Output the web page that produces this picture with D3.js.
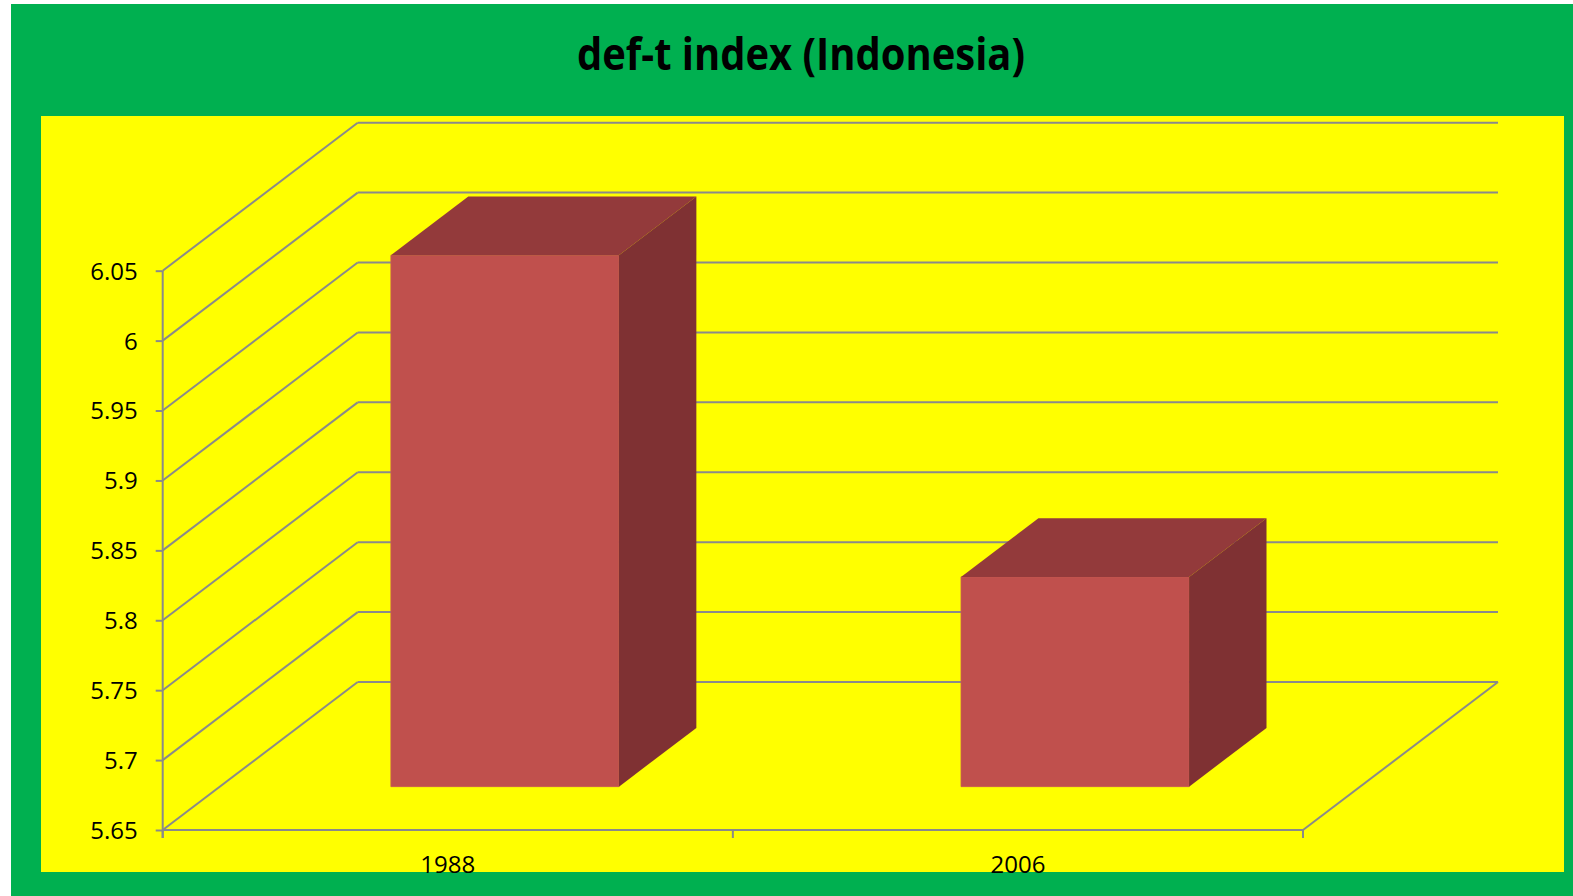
<!DOCTYPE html>
<html>
<head>
<meta charset="utf-8">
<script src="https://cdn.jsdelivr.net/npm/d3@7"></script>
<style>
  html, body { margin: 0; padding: 0; background: #ffffff; }
  svg { display: block; }
</style>
</head>
<body>
<svg id="chart" width="1573" height="896"></svg>
<script>
// --- data ---
const categories = ["1988", "2006"];
const values = [6.03, 5.80];
const yTicks = [5.65, 5.7, 5.75, 5.8, 5.85, 5.9, 5.95, 6.0, 6.05];
const titleText = "def-t index (Indonesia)";

// --- layout ---
const W = 1573, H = 896;
const frontLeft = 162.7, frontRight = 1303, floorY = 830, topY = 270.7;
const depth = { dx: 195, dy: -148 };      // oblique offset from front plane to back wall
const barFront = 0.293, barBack = 0.69;    // bar depth position as fraction of full depth
const gridColor = "#8a8a8a";
const gridWidth = 2;

const svg = d3.select("#chart");

// backgrounds
svg.append("rect").attr("x", 11).attr("y", 4).attr("width", W - 11).attr("height", H - 4).attr("fill", "#00b050");
svg.append("rect").attr("x", 41).attr("y", 116).attr("width", 1564 - 41).attr("height", 872 - 116).attr("fill", "#ffff00");

// title
svg.append("text")
  .attr("x", 801).attr("y", 70)
  .attr("text-anchor", "middle")
  .attr("font-family", "'Open Sans', sans-serif")
  .attr("font-weight", 700)
  .attr("font-size", 44)
  .attr("textLength", 448)
  .attr("lengthAdjust", "spacingAndGlyphs")
  .attr("fill", "#000")
  .text(titleText);

// scales
const y = d3.scaleLinear().domain([5.65, 6.05]).range([floorY, topY]);
const x = d3.scaleBand().domain(categories).range([frontLeft, frontRight]).padding(0);

// project a point on the front plane back by a fraction of the depth
const P = (px, py, f) => [px + depth.dx * f, py + depth.dy * f];

const g = svg.append("g");

// back wall gridlines
g.selectAll("line.back").data(yTicks).join("line")
  .attr("class", "back")
  .attr("x1", frontLeft + depth.dx).attr("x2", frontRight + depth.dx)
  .attr("y1", d => y(d) + depth.dy).attr("y2", d => y(d) + depth.dy)
  .attr("stroke", gridColor).attr("stroke-width", gridWidth);

// side wall gridlines
g.selectAll("line.side").data(yTicks).join("line")
  .attr("class", "side")
  .attr("x1", frontLeft).attr("y1", d => y(d))
  .attr("x2", frontLeft + depth.dx).attr("y2", d => y(d) + depth.dy)
  .attr("stroke", gridColor).attr("stroke-width", gridWidth);

// floor: front edge and right edge
g.append("line")
  .attr("x1", frontLeft).attr("x2", frontRight).attr("y1", floorY).attr("y2", floorY)
  .attr("stroke", gridColor).attr("stroke-width", gridWidth);
g.append("line")
  .attr("x1", frontRight).attr("y1", floorY)
  .attr("x2", frontRight + depth.dx).attr("y2", floorY + depth.dy)
  .attr("stroke", gridColor).attr("stroke-width", gridWidth);

// category boundary ticks
const bounds = categories.map(c => x(c)).concat([frontRight]);
g.selectAll("line.xt").data(bounds).join("line")
  .attr("class", "xt")
  .attr("x1", d => d).attr("x2", d => d)
  .attr("y1", floorY).attr("y2", floorY + 8)
  .attr("stroke", gridColor).attr("stroke-width", gridWidth);

// value axis
const yAxis = d3.axisLeft(y)
  .tickValues(yTicks)
  .tickSize(7).tickSizeOuter(0).tickPadding(18)
  .tickFormat(d => String(+d.toFixed(2)));
const ya = svg.append("g").attr("transform", `translate(${frontLeft},0)`).call(yAxis);
ya.select(".domain").remove();
ya.selectAll(".tick line").attr("stroke", gridColor).attr("stroke-width", gridWidth);
ya.selectAll(".tick text")
  .attr("font-family", "'Open Sans', sans-serif")
  .attr("font-size", 24)
  .attr("fill", "#000")
  .attr("dy", "0.35em");
svg.append("line")
  .attr("x1", frontLeft).attr("x2", frontLeft)
  .attr("y1", topY).attr("y2", floorY + 8)
  .attr("stroke", gridColor).attr("stroke-width", gridWidth);

// 3D bars
const bars = categories.map((c, i) => {
  const x0 = x(c) + x.bandwidth() * 0.3;
  const x1 = x(c) + x.bandwidth() * 0.7;
  return { c, v: values[i], x0, x1, yTop: y(values[i]), yBot: y(5.65) };
});

const barG = svg.append("g").selectAll("g").data(bars).join("g");
const pts = arr => arr.map(p => p.join(",")).join(" ");

// front face
barG.append("polygon")
  .attr("points", d => pts([
    P(d.x0, d.yTop, barFront), P(d.x1, d.yTop, barFront),
    P(d.x1, d.yBot, barFront), P(d.x0, d.yBot, barFront)]))
  .attr("fill", "#c0504d").attr("stroke", "#c75a52").attr("stroke-width", 0.8);
// top face
barG.append("polygon")
  .attr("points", d => pts([
    P(d.x0, d.yTop, barFront), P(d.x1, d.yTop, barFront),
    P(d.x1, d.yTop, barBack), P(d.x0, d.yTop, barBack)]))
  .attr("fill", "#933a3b");
// side face
barG.append("polygon")
  .attr("points", d => pts([
    P(d.x1, d.yTop, barFront), P(d.x1, d.yTop, barBack),
    P(d.x1, d.yBot, barBack), P(d.x1, d.yBot, barFront)]))
  .attr("fill", "#7f3133");

// category labels
const xAxis = d3.axisBottom(x).tickSize(0).tickPadding(0);
const xa = svg.append("g").attr("transform", `translate(0,${floorY})`).call(xAxis);
xa.select(".domain").remove();
xa.selectAll(".tick text")
  .attr("font-family", "'Open Sans', sans-serif")
  .attr("font-size", 24)
  .attr("fill", "#000")
  .attr("y", 43.3)
  .attr("dy", 0);
</script>
</body>
</html>
